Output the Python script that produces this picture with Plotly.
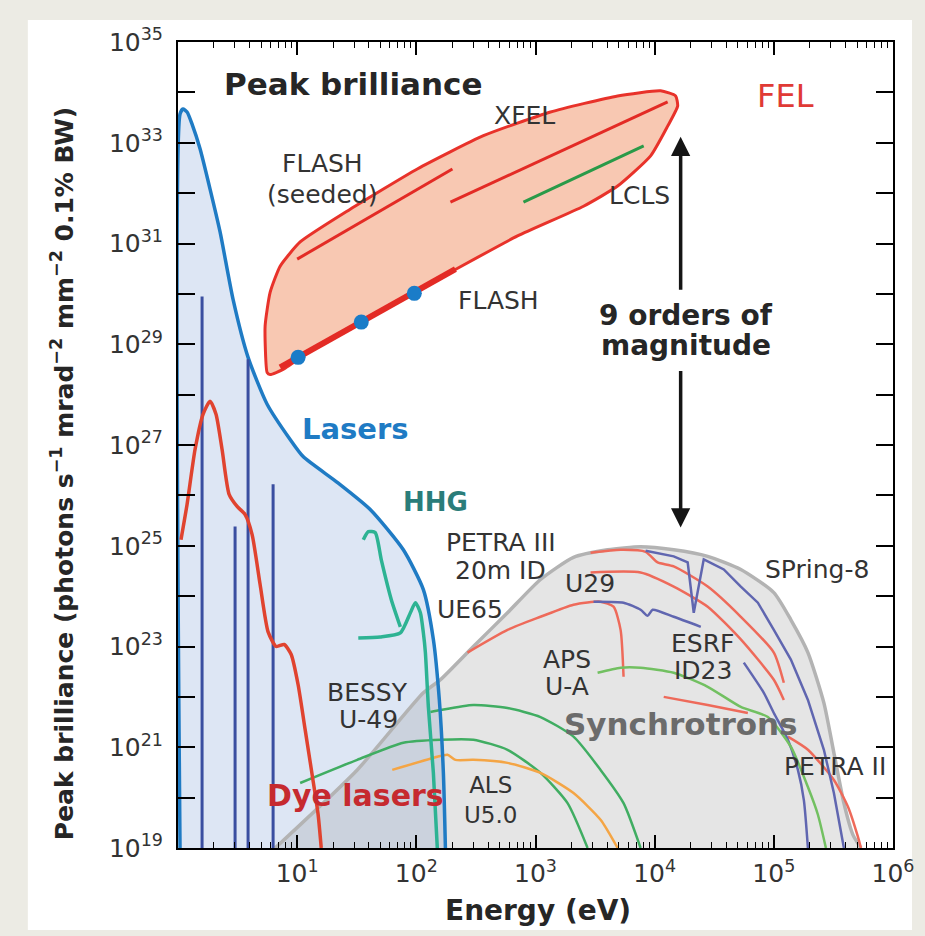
import numpy as np
import plotly.graph_objects as go

# ---------------- data (log10 units: energy in eV, brilliance) ----------------
laser_logE = [0.017, 0.017, 0.042, 0.076, 0.118, 0.185, 0.269, 0.353, 0.462, 0.588, 0.748, 0.941,
              1.050, 1.336, 1.613, 1.891, 2.059, 2.143, 2.193, 2.227, 2.244]
laser_logB = [19.0, 33.57, 33.67, 33.61, 33.37, 32.88, 32.08, 31.23, 29.89, 28.74, 27.81, 27.11,
              26.77, 26.26, 25.72, 24.92, 24.13, 23.14, 21.94, 20.49, 19.0]

spike_logE = [0.202, 0.479, 0.588, 0.798]
spike_top_logB = [29.95, 25.38, 28.70, 26.22]

dye_logE = [0.025, 0.076, 0.143, 0.210, 0.269, 0.319, 0.370, 0.429, 0.496, 0.563, 0.622, 0.689,
            0.756, 0.824, 0.891, 0.950, 1.008, 1.067, 1.126, 1.176, 1.202]
dye_logB = [25.12, 25.82, 26.91, 27.61, 27.87, 27.61, 26.91, 26.02, 25.78, 25.62, 25.22, 24.23,
            23.29, 23.00, 23.04, 22.84, 22.24, 21.35, 20.45, 19.66, 19.0]

hhg1_logE = [1.555, 1.597, 1.655, 1.706, 1.790, 1.866]
hhg1_logB = [25.12, 25.28, 25.26, 24.72, 23.93, 23.39]
hhg2_logE = [1.513, 1.697, 1.866, 1.950, 1.992, 2.034, 2.059, 2.076, 2.101, 2.143, 2.176]
hhg2_logB = [23.17, 23.19, 23.27, 23.67, 23.87, 23.67, 23.27, 22.88, 21.80, 20.49, 19.0]

sync_env_logE = [0.815, 1.504, 2.059, 2.202, 2.479, 2.765, 3.042, 3.319, 3.605, 3.882, 4.160,
                 4.445, 4.723, 5.000, 5.143, 5.286, 5.420, 5.504, 5.588, 5.664, 5.731]
sync_env_logB = [19.0, 20.55, 22.08, 22.34, 23.00, 23.67, 24.33, 24.77, 24.92, 24.98, 24.92,
                 24.79, 24.53, 24.07, 23.53, 22.88, 21.88, 20.89, 19.89, 19.26, 19.0]

# synchrotron source curves
u29_red_logE = [2.429, 2.765, 3.042, 3.319, 3.546, 3.655, 3.714, 3.739]
u29_red_logB = [22.88, 23.33, 23.59, 23.83, 23.89, 23.79, 23.33, 22.40]
petra3_logE = [3.462, 3.714, 3.924, 4.025, 4.160, 4.445, 4.723, 5.000, 5.084]
petra3_logB = [24.86, 24.92, 24.88, 24.67, 24.59, 24.19, 23.59, 22.88, 22.28]
red3_logE = [3.462, 3.882, 4.160, 4.445, 4.723, 5.000, 5.084]
red3_logB = [24.47, 24.47, 24.19, 23.79, 23.14, 22.34, 21.94]
esrf_red_logE = [4.076, 4.445, 4.782]
esrf_red_logB = [22.00, 21.84, 21.68]
petra2_logE = [5.118, 5.286, 5.504, 5.622, 5.706, 5.731]
petra2_logB = [21.21, 20.95, 20.35, 19.82, 19.22, 19.0]

u29_blue_logE = [3.487, 3.739, 3.882, 3.941, 3.983, 4.160, 4.387]
u29_blue_logB = [23.89, 23.87, 23.73, 23.61, 23.73, 23.59, 23.39]
spring8_logE = [3.924, 4.160, 4.277, 4.328, 4.412, 4.580, 4.723, 4.866, 5.000, 5.143, 5.286,
                5.420, 5.504, 5.588]
spring8_logB = [24.90, 24.79, 24.67, 23.67, 24.73, 24.53, 24.19, 23.87, 23.33, 22.74, 21.94,
                20.95, 20.09, 19.0]
esrf_blue_logE = [4.748, 4.916, 5.000, 5.118, 5.202, 5.252, 5.286]
esrf_blue_logB = [22.68, 22.08, 21.68, 21.15, 20.55, 19.95, 19.0]

aps_logE = [3.521, 3.714, 3.882, 4.160, 4.445, 4.723, 4.950, 5.143, 5.286, 5.370, 5.437]
aps_logB = [22.48, 22.58, 22.58, 22.48, 22.20, 21.80, 21.60, 21.01, 20.21, 19.66, 19.0]
bessy_logE = [2.118, 2.202, 2.479, 2.765, 3.042, 3.319, 3.546, 3.739, 3.882]
bessy_logB = [21.70, 21.74, 21.84, 21.78, 21.60, 21.21, 20.55, 19.89, 19.0]
green3_logE = [1.025, 1.504, 1.891, 2.202, 2.479, 2.765, 3.042, 3.269, 3.437]
green3_logB = [20.29, 20.75, 21.09, 21.15, 21.15, 20.95, 20.49, 19.89, 19.0]
als_logE = [1.798, 2.176, 2.261, 2.328, 2.479, 2.765, 3.042, 3.319, 3.546, 3.689]
als_logB = [20.55, 20.81, 20.85, 20.75, 20.75, 20.69, 20.49, 20.09, 19.56, 19.0]

# FEL region
fel_logE = [0.748, 0.731, 0.773, 0.857, 1.025, 1.445, 2.008, 2.563, 3.126, 3.689, 4.050, 4.176,
            4.193, 4.109, 3.966, 3.689, 3.403, 2.849, 2.286, 1.723, 1.168, 0.882, 0.773, 0.748]
fel_logB = [28.44, 29.36, 30.03, 30.55, 31.03, 31.68, 32.48, 33.14, 33.61, 33.93, 34.03, 33.93,
            33.73, 33.33, 32.74, 32.14, 31.74, 31.15, 30.43, 29.70, 28.96, 28.50, 28.40, 28.44]
flash_seeded_logE = [1.000, 2.303]
flash_seeded_logB = [30.69, 32.48]
xfel_logE = [2.286, 4.109]
xfel_logB = [31.82, 33.81]
lcls_logE = [2.899, 3.908]
lcls_logB = [31.82, 32.94]
flash_logE = [0.857, 2.328]
flash_logB = [28.54, 30.49]
flash_dots_logE = [1.008, 1.538, 1.983]
flash_dots_logB = [28.74, 29.44, 30.01]

x_major = [1, 2, 3, 4, 5, 6]
y_major = list(range(19, 36))
x_tick_text = ["10<sup>%d</sup>" % k for k in x_major]
y_tick_text = [("10<sup>%d</sup>" % k) if k % 2 == 1 else "" for k in y_major]


def p(v):
    return [float(10.0 ** float(a)) for a in v]


FONT = "DejaVu Sans"
fig = go.Figure()


def line(xl, yl, color, width, smooth=True):
    ln = dict(color=color, width=width)
    if smooth:
        ln.update(shape="spline", smoothing=0.6)
    fig.add_trace(go.Scatter(x=p(xl), y=p(yl), mode="lines", line=ln,
                             hoverinfo="skip", showlegend=False))


# laser fill
fig.add_trace(go.Scatter(x=p(laser_logE), y=p(laser_logB), mode="lines", fill="toself",
                         fillcolor="#dde6f4", line=dict(width=0, shape="spline", smoothing=0.6),
                         hoverinfo="skip", showlegend=False))
# synchrotron fill + envelope
fig.add_trace(go.Scatter(x=p(sync_env_logE), y=p(sync_env_logB), mode="lines", fill="toself",
                         fillcolor="rgba(150,150,150,0.25)",
                         line=dict(width=0, shape="spline", smoothing=0.6),
                         hoverinfo="skip", showlegend=False))
line(sync_env_logE, sync_env_logB, "#b3b3b3", 3.5)

RED_S = "#ee6a5a"
BLUE_S = "#6066b0"
line(u29_red_logE, u29_red_logB, RED_S, 2.5)
line(petra3_logE, petra3_logB, RED_S, 2.5)
line(red3_logE, red3_logB, RED_S, 2.5)
line(esrf_red_logE, esrf_red_logB, RED_S, 2.5)
line(petra2_logE, petra2_logB, RED_S, 2.5)
line(u29_blue_logE, u29_blue_logB, BLUE_S, 2.5)
line(spring8_logE, spring8_logB, BLUE_S, 2.5, smooth=False)
line(esrf_blue_logE, esrf_blue_logB, BLUE_S, 2.5)
line(aps_logE, aps_logB, "#72c061", 2.5)
line(bessy_logE, bessy_logB, "#40ad62", 2.5)
line(green3_logE, green3_logB, "#40ad62", 2.5)
line(als_logE, als_logB, "#f4a545", 2.5)

# laser line
line(laser_logE, laser_logB, "#1f7bc4", 3.5)
# spikes
for e, top in zip(spike_logE, spike_top_logB):
    line([e, e], [19.0, top], "#3a4ea0", 3, smooth=False)
# dye lasers
line(dye_logE, dye_logB, "#e0432f", 3.5)
# HHG
line(hhg1_logE, hhg1_logB, "#2db393", 3.5)
line(hhg2_logE, hhg2_logB, "#2db393", 3.5)

# FEL
fig.add_trace(go.Scatter(x=p(fel_logE), y=p(fel_logB), mode="lines", fill="toself",
                         fillcolor="#f8c8b2", line=dict(color="#e8322a", width=3, shape="spline", smoothing=0.5),
                         hoverinfo="skip", showlegend=False))
line(flash_seeded_logE, flash_seeded_logB, "#e32b25", 3, smooth=False)
line(xfel_logE, xfel_logB, "#e32b25", 3, smooth=False)
line(lcls_logE, lcls_logB, "#2a9a48", 3, smooth=False)
line(flash_logE, flash_logB, "#e32b25", 6, smooth=False)
fig.add_trace(go.Scatter(x=p(flash_dots_logE), y=p(flash_dots_logB), mode="markers",
                         marker=dict(color="#1a7cc8", size=15), hoverinfo="skip", showlegend=False))

ann = []


def label(x, y, text, size=25, color="#333333", bold=False, xanchor="center"):
    t = "<b>%s</b>" % text if bold else text
    ann.append(dict(x=x, y=y, xref="x", yref="y", text=t, showarrow=False, xanchor=xanchor,
                    yanchor="middle", font=dict(family=FONT, size=size, color=color)))


label(0.370, 34.17, "Peak brilliance", 31, "#262626", True, "left")
label(5.101, 33.93, "FEL", 32, "#e03a35")
label(2.908, 33.55, "XFEL")
label(1.210, 32.58, "FLASH")
label(1.210, 31.98, "(seeded)")
label(3.874, 31.96, "LCLS")
label(2.689, 29.87, "FLASH")
label(4.261, 29.58, "9 orders of", 28, "#262626", True)
label(4.261, 28.98, "magnitude", 28, "#262626", True)
label(1.487, 27.31, "Lasers", 29, "#1f7bc4", True)
label(2.160, 25.86, "HHG", 26, "#2a7d7a", True)
label(2.714, 25.06, "PETRA III")
label(2.706, 24.51, "20m ID")
label(3.454, 24.25, "U29")
label(2.454, 23.73, "UE65")
label(5.361, 24.53, "SPring-8")
label(4.403, 23.06, "ESRF")
label(4.403, 22.52, "ID23")
label(3.261, 22.74, "APS")
label(3.261, 22.20, "U-A")
label(4.218, 21.47, "Synchrotrons", 31, "#6b6b6b", True)
label(1.588, 22.08, "BESSY")
label(1.597, 21.56, "U-49")
label(1.487, 20.05, "Dye lasers", 30, "#c62a2f", True)
ann.append(dict(x=2.622, y=19.95, xref="x", yref="y", text="ALS<br>U5.0", showarrow=False,
                xanchor="center", yanchor="middle", align="center",
                font=dict(family=FONT, size=23, color="#333333")))
label(5.513, 20.61, "PETRA II")

# double arrow "9 orders of magnitude"
ann.append(dict(x=4.218, y=33.12, ax=4.218, ay=30.05, xref="x", yref="y", axref="x", ayref="y",
                text="", showarrow=True, arrowhead=2, arrowsize=1.1, arrowwidth=3.5, arrowcolor="#151515"))
ann.append(dict(x=4.218, y=25.36, ax=4.218, ay=28.50, xref="x", yref="y", axref="x", ayref="y",
                text="", showarrow=True, arrowhead=2, arrowsize=1.1, arrowwidth=3.5, arrowcolor="#151515"))

# axis titles
ann.append(dict(x=0.503, y=-0.077, xref="paper", yref="paper", showarrow=False,
                text="<b>Energy (eV)</b>", font=dict(family=FONT, size=28, color="#262626"),
                xanchor="center", yanchor="middle"))
ann.append(dict(x=-0.162, y=0.464, xref="paper", yref="paper", showarrow=False, textangle=-90,
                text="<b>Peak brilliance (photons s<sup>\u22121</sup> mrad<sup>\u22122</sup> "
                     "mm<sup>\u22122</sup> 0.1% BW)</b>",
                font=dict(family=FONT, size=25, color="#262626"), xanchor="center", yanchor="middle"))

minor_x = [float(m * 10.0 ** d) for d in range(0, 6) for m in range(2, 10)]

fig.update_layout(
    width=925, height=936,
    margin=dict(l=178, r=32, t=42, b=88),
    paper_bgcolor="#ecebe4", plot_bgcolor="white",
    annotations=ann,
    shapes=[dict(type="rect", xref="paper", yref="paper", x0=-0.21, x1=1.0266, y0=-0.1017, y1=1.0273,
                 fillcolor="white", line=dict(width=0), layer="below")],
    xaxis=dict(type="log", range=[0, 6], showgrid=False, zeroline=False,
               showline=True, linecolor="black", linewidth=2, mirror="ticks",
               ticks="inside", ticklen=13, tickwidth=1.6, tickcolor="black",
               tickvals=[float(10.0 ** k) for k in x_major], ticktext=x_tick_text,
               ticklabelstandoff=2,
               tickfont=dict(family=FONT, size=25, color="#333333"),
               minor=dict(tickvals=minor_x, ticks="inside", ticklen=6, tickwidth=1.3, tickcolor="black")),
    yaxis=dict(type="log", range=[19, 35], showgrid=False, zeroline=False,
               showline=True, linecolor="black", linewidth=2, mirror="ticks",
               ticks="inside", ticklen=17, tickwidth=1.6, tickcolor="black",
               tickvals=[float(10.0 ** k) for k in y_major], ticktext=y_tick_text,
               ticklabelstandoff=8,
               tickfont=dict(family=FONT, size=25, color="#333333")),
)

fig.write_html("out.html")
